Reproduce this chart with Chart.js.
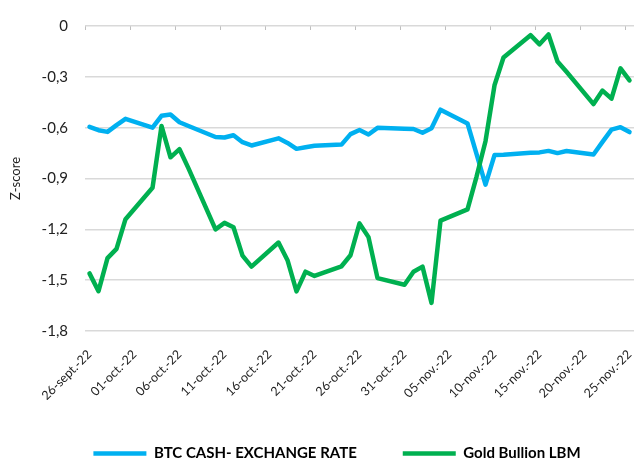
<!DOCTYPE html>
<html>
<head>
<meta charset="utf-8">
<script src="https://cdn.jsdelivr.net/npm/chart.js@4.4.0/dist/chart.umd.min.js"></script>
<style>
  html, body { margin: 0; padding: 0; background: #fff; }
  #wrap { width: 635px; height: 461px; }
</style>
</head>
<body>
<div id="wrap"><canvas id="grafico"></canvas></div>
<script>
// un dato por dia natural; null = fin de semana sin cotizacion
const fechas = [
  "26-sept.-22", "27-sept.-22", "28-sept.-22", "29-sept.-22", "30-sept.-22",
  "01-oct.-22", "02-oct.-22", "03-oct.-22", "04-oct.-22", "05-oct.-22", "06-oct.-22", "07-oct.-22",
  "08-oct.-22", "09-oct.-22", "10-oct.-22", "11-oct.-22", "12-oct.-22", "13-oct.-22", "14-oct.-22",
  "15-oct.-22", "16-oct.-22", "17-oct.-22", "18-oct.-22", "19-oct.-22", "20-oct.-22", "21-oct.-22",
  "22-oct.-22", "23-oct.-22", "24-oct.-22", "25-oct.-22", "26-oct.-22", "27-oct.-22", "28-oct.-22",
  "29-oct.-22", "30-oct.-22", "31-oct.-22",
  "01-nov.-22", "02-nov.-22", "03-nov.-22", "04-nov.-22", "05-nov.-22", "06-nov.-22", "07-nov.-22",
  "08-nov.-22", "09-nov.-22", "10-nov.-22", "11-nov.-22", "12-nov.-22", "13-nov.-22", "14-nov.-22",
  "15-nov.-22", "16-nov.-22", "17-nov.-22", "18-nov.-22", "19-nov.-22", "20-nov.-22", "21-nov.-22",
  "22-nov.-22", "23-nov.-22", "24-nov.-22", "25-nov.-22"
];

const btcCash = [
  -0.595, -0.615, -0.625, -0.585, -0.548,
  null, null, -0.600, -0.530, -0.522, -0.568, -0.590,
  null, null, -0.655, -0.658, -0.645, -0.686, -0.705,
  null, null, -0.663, -0.690, -0.725, -0.716, -0.707,
  null, null, -0.700, -0.638, -0.614, -0.640, -0.601,
  null, null, -0.607,
  -0.608, -0.630, -0.603, -0.494, null, null, -0.575,
  -0.755, -0.936, -0.762, -0.760, null, null, -0.748,
  -0.746, -0.737, -0.750, -0.738, null, null, -0.758,
  -0.684, -0.612, -0.597, -0.626
];

const goldBullion = [
  -1.460, -1.565, -1.370, -1.315, -1.140,
  null, null, -0.955, -0.590, -0.775, -0.727, -0.840,
  null, null, -1.200, -1.162, -1.188, -1.355, -1.420,
  null, null, -1.278, -1.382, -1.566, -1.450, -1.475,
  null, null, -1.418, -1.353, -1.165, -1.246, -1.488,
  null, null, -1.527,
  -1.450, -1.420, -1.634, -1.149, null, null, -1.082,
  -0.890, -0.680, -0.350, -0.186, null, null, -0.054,
  -0.108, -0.050, -0.209, -0.270, null, null, -0.461,
  -0.381, -0.429, -0.250, -0.321
];

const yMin = -1.8;
const yMax = 0;
const yStep = 0.3;

const gris = "#D9D9D9";
const texto = "#222222";

Chart.defaults.font.family = "Lato, 'Open Sans', sans-serif";
Chart.defaults.color = texto;

const ctx = document.getElementById("grafico").getContext("2d");
new Chart(ctx, {
  type: "line",
  data: {
    labels: fechas,
    datasets: [
      {
        label: "BTC CASH- EXCHANGE RATE",
        data: btcCash,
        borderColor: "#00B0F0",
        backgroundColor: "#00B0F0",
        borderWidth: 4.5,
        order: 1
      },
      {
        label: "Gold Bullion LBM",
        data: goldBullion,
        borderColor: "#00B050",
        backgroundColor: "#00B050",
        borderWidth: 4.5,
        order: 0
      }
    ]
  },
  options: {
    responsive: true,
    maintainAspectRatio: false,
    animation: false,
    devicePixelRatio: 1,
    spanGaps: true,
    elements: {
      point: { radius: 0, hoverRadius: 0 },
      line: { tension: 0, borderCapStyle: "round", borderJoinStyle: "round" }
    },
    // left padding only pushes the legend to the right; the y axis fills the rest
    layout: { padding: { top: 19, right: 1, bottom: -10, left: 40 } },
    scales: {
      x: {
        type: "category",
        offset: true,
        grid: { display: false, drawTicks: false },
        border: { display: false },
        ticks: {
          autoSkip: false,
          minRotation: 45,
          maxRotation: 45,
          padding: 16,
          font: { size: 12.5 },
          callback: (v, i) => (i % 5 === 0 ? fechas[i] : "")
        },
        afterFit: (scale) => {
          scale.height = 69;
          scale.paddingLeft = 0;
          scale.paddingRight = 0;
        }
      },
      xEje: {
        type: "category",
        position: { y: 0 },
        offset: true,
        grid: {
          offset: true,
          drawOnChartArea: false,
          tickLength: 4,
          lineWidth: 1,
          color: (c) => (c.index % 5 === 0 ? "#BFBFBF" : "rgba(0,0,0,0)")
        },
        border: { display: false },
        ticks: { display: false, autoSkip: false }
      },
      y: {
        min: yMin,
        max: yMax,
        grid: { color: gris, lineWidth: 1.5, drawTicks: false },
        border: { display: false },
        ticks: {
          stepSize: yStep,
          padding: 17,
          font: { size: 15 },
          callback: (v) => (v === 0 ? "0" : v.toFixed(1).replace(".", ","))
        },
        title: {
          display: true,
          text: "Z-score",
          font: { size: 13 },
          padding: { top: -32, bottom: 0 }
        },
        afterFit: (scale) => { scale.width = 45; }
      }
    },
    plugins: {
      tooltip: { enabled: false },
      legend: {
        position: "bottom",
        labels: {
          usePointStyle: true,
          pointStyle: "line",
          pointStyleWidth: 53,
          padding: 46,
          color: "#000000",
          font: { size: 15, weight: "bold" },
          sort: (a, b) => a.datasetIndex - b.datasetIndex
        }
      }
    }
  }
});
</script>
</body>
</html>
